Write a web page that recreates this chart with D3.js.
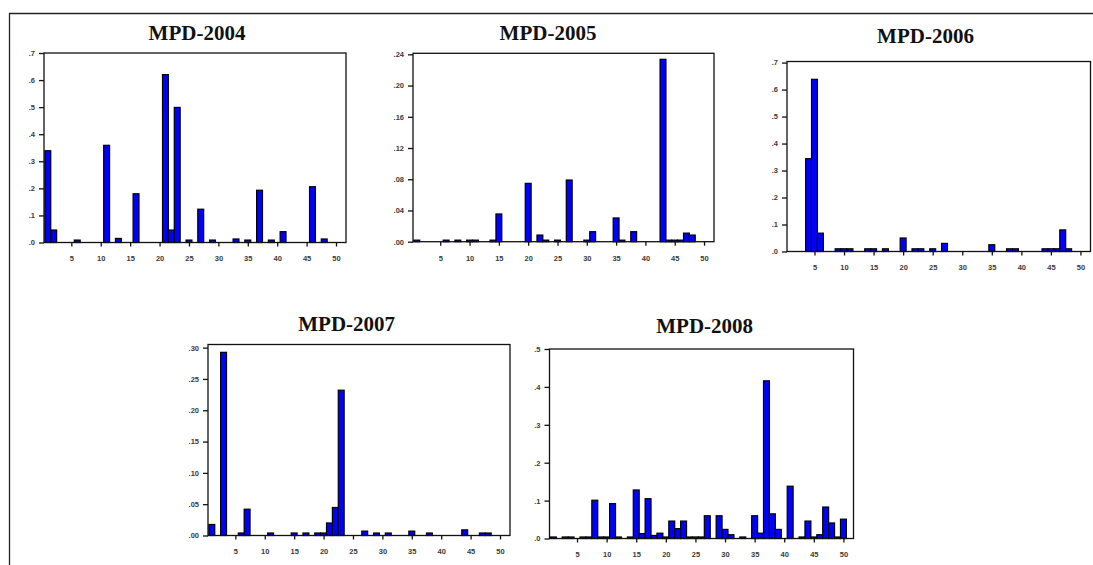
<!DOCTYPE html>
<html>
<head>
<meta charset="utf-8">
<script src="https://cdn.jsdelivr.net/npm/d3@7"></script>
<style>
  body { margin: 0; background: #fff; }
  svg { display: block; }
  .tick text { font-family: "Liberation Sans", Arial, sans-serif; font-size: 7.5px; font-weight: bold; fill: #3a3a3a; }
  .title { font-family: "Liberation Serif", "Times New Roman", serif; font-weight: bold; font-size: 21px; fill: #111; }
</style>
</head>
<body>
<svg id="chart" width="1093" height="565"></svg>
<script>
// categories 1..50, one value per category (0 = no bar)
const categories = d3.range(1, 51);
const xTicks = [5, 10, 15, 20, 25, 30, 35, 40, 45, 50];

const mpd2004 = [
  .339, .046, 0, 0, 0, .009, 0, 0, 0, 0,
  .359, 0, .015, 0, 0, .18, 0, 0, 0, 0,
  .62, .046, .499, 0, .009, 0, .123, 0, .009, 0,
  0, 0, .013, 0, .009, 0, .193, 0, .009, 0,
  .04, 0, 0, 0, 0, .206, 0, .013, 0, 0
];
const mpd2005 = [
  .002, 0, 0, 0, 0, .002, 0, .002, 0, .002,
  .002, 0, 0, .002, .0355, 0, 0, 0, 0, .0747,
  0, .0085, .002, 0, .002, 0, .079, 0, 0, .002,
  .0128, 0, 0, 0, .0304, .002, 0, .0128, 0, 0,
  0, 0, .2336, .002, .002, .002, .011, .0085, 0, 0
];
const mpd2006 = [
  0, 0, 0, .344, .638, .068, 0, 0, .01, .01,
  .01, 0, 0, .01, .01, 0, .01, 0, 0, .05,
  0, .01, .01, 0, .01, 0, .03, 0, 0, 0,
  0, 0, 0, 0, .025, 0, 0, .01, .01, 0,
  0, 0, 0, .01, .01, .01, .08, .01, 0, 0
];
const mpd2007 = [
  .0176, 0, .2925, 0, 0, .004, .042, 0, 0, 0,
  .004, 0, 0, 0, .004, 0, .004, 0, .004, .004,
  .02, .0447, .232, 0, 0, 0, .007, 0, .004, 0,
  .004, 0, 0, 0, .007, 0, 0, .004, 0, 0,
  0, 0, 0, .009, 0, 0, .004, .004, 0, 0
];
const mpd2008 = [
  .004, 0, .004, .004, 0, .004, .004, .101, .004, .004,
  .092, .004, 0, .004, .128, .013, .105, .008, .014, .004,
  .046, .026, .046, .004, .004, .004, .06, 0, .06, .024,
  .01, 0, .004, 0, .06, .014, .416, .065, .024, 0,
  .138, 0, .004, .046, .004, .01, .083, .041, .004, .051
];

const ticksTenths = [0, .1, .2, .3, .4, .5, .6, .7];
const ticks2005 = [0, .04, .08, .12, .16, .20, .24];
const ticks2007 = [0, .05, .10, .15, .20, .25, .30];
const ticks2008 = [0, .1, .2, .3, .4, .5];

// ".7" / ".04" style labels, no leading zero
const fmt1 = d => d3.format(".1f")(d).replace(/^0/, "");
const fmt2 = d => d3.format(".2f")(d).replace(/^0/, "");

const panels = [
  { title: "MPD-2004", values: mpd2004, yMax: .7,   ticks: ticksTenths, fmt: fmt1, l: 44,  r: 346,    t: 53,    b: 242.5, tx: 197,   ty: 40 },
  { title: "MPD-2005", values: mpd2005, yMax: .2413, ticks: ticks2005,  fmt: fmt2, l: 413, r: 714,    t: 53.3,  b: 241.7, tx: 548,   ty: 40 },
  { title: "MPD-2006", values: mpd2006, yMax: .704, ticks: ticksTenths, fmt: fmt1, l: 787, r: 1090.5, t: 61.5,  b: 251.5, tx: 925.5, ty: 43 },
  { title: "MPD-2007", values: mpd2007, yMax: .305, ticks: ticks2007,   fmt: fmt2, l: 208, r: 510,    t: 344.5, b: 535.5, tx: 346.7, ty: 331 },
  { title: "MPD-2008", values: mpd2008, yMax: .5,   ticks: ticks2008,   fmt: fmt1, l: 549.5, r: 853.5, t: 349,  b: 538.5, tx: 704.7, ty: 333 }
];

const svg = d3.select("#chart");

// outer page frame (top + left edge)
svg.append("path")
  .attr("d", "M9.5,565V13.5H1093")
  .attr("fill", "none")
  .attr("stroke", "#222")
  .attr("stroke-width", 1.3);

panels.forEach(p => {
  const x = d3.scaleLinear().domain([0.35, 51.7]).range([p.l, p.r]);
  const y = d3.scaleLinear().domain([0, p.yMax]).range([p.b, p.t]);
  const g = svg.append("g");

  g.append("text")
    .attr("class", "title")
    .attr("x", p.tx)
    .attr("y", p.ty)
    .attr("text-anchor", "middle")
    .text(p.title);

  const data = categories.map((c, i) => ({ c: c, v: p.values[i] })).filter(d => d.v > 0);

  g.selectAll("rect.bar")
    .data(data)
    .enter()
    .append("rect")
    .attr("class", "bar")
    .attr("x", d => x(d.c - 0.5))
    .attr("width", d => x(d.c + 0.5) - x(d.c - 0.5))
    .attr("y", d => y(d.v))
    .attr("height", d => y(0) - y(d.v))
    .attr("fill", "#0000ff")
    .attr("stroke", "#000")
    .attr("stroke-width", 1.2);

  const yAxis = g.append("g")
    .attr("transform", "translate(" + p.l + ",0)")
    .call(d3.axisLeft(y).tickValues(p.ticks).tickFormat(p.fmt).tickSize(5).tickPadding(4));
  const xAxis = g.append("g")
    .attr("transform", "translate(0," + p.b + ")")
    .call(d3.axisBottom(x).tickValues(xTicks).tickSize(4).tickPadding(9.5));

  [yAxis, xAxis].forEach(a => {
    a.select(".domain").remove();
    a.selectAll(".tick line").attr("stroke", "#111").attr("stroke-width", 1.3);
  });

  g.append("rect")
    .attr("x", p.l)
    .attr("y", p.t)
    .attr("width", p.r - p.l)
    .attr("height", p.b - p.t)
    .attr("fill", "none")
    .attr("stroke", "#111")
    .attr("stroke-width", 1.3);
});
</script>
</body>
</html>
